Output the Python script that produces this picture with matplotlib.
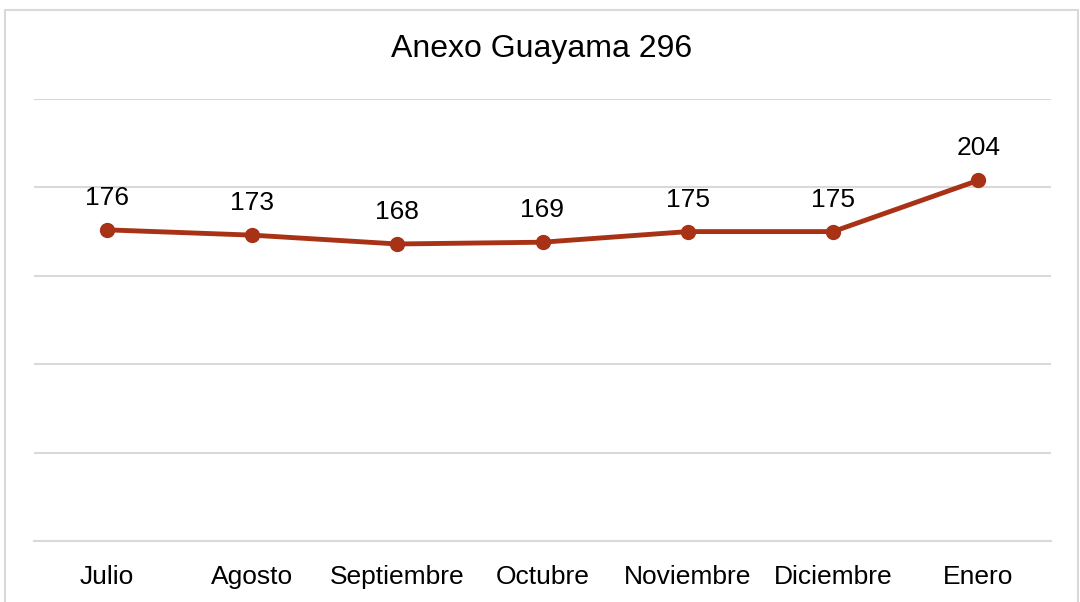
import matplotlib.pyplot as plt
from matplotlib.patches import Rectangle

plt.rcParams['font.family'] = ['Liberation Sans', 'DejaVu Sans']

months = ['Julio', 'Agosto', 'Septiembre', 'Octubre', 'Noviembre', 'Diciembre', 'Enero']
values = [176, 173, 168, 169, 175, 175, 204]
line_color = '#A83216'

fig = plt.figure(figsize=(10.8, 6.02), dpi=100)
ax = fig.add_axes([34 / 1080, 61 / 602, (1051 - 34) / 1080, (541 - 99) / 602])

# outer chart border, like a spreadsheet chart frame
fig.patches.append(Rectangle((4.5 / 1080, -0.01), (1078 - 4.5) / 1080, (602 - 9.5) / 602 + 0.01,
                             transform=fig.transFigure, fill=False,
                             edgecolor='#D9D9D9', linewidth=1.5))

x = range(len(months))
ax.plot(x, values, color=line_color, linewidth=3.5, marker='o', markersize=10)
for xi, v in zip(x, values):
    ax.annotate(str(v), (xi, v), xytext=(0, 23), textcoords='offset points',
                ha='center', va='center', fontsize=19)

ax.set_xlim(-0.5, len(months) - 0.5)
ax.set_ylim(0, 250)
ax.set_yticks(range(0, 251, 50))
ax.yaxis.grid(True, color='#D9D9D9', linewidth=1.5)
ax.set_axisbelow(True)
ax.set_yticklabels([])
ax.tick_params(axis='y', length=0)
ax.tick_params(axis='x', length=0, labelsize=19, pad=17)
ax.set_xticks(list(x))
ax.set_xticklabels(months)
for s in ['top', 'right', 'left']:
    ax.spines[s].set_visible(False)
ax.spines['bottom'].set_color('#D9D9D9')
ax.spines['bottom'].set_linewidth(1.5)

fig.text(542 / 1080, 1 - 49 / 602, 'Anexo Guayama 296', ha='center', va='center', fontsize=23)

fig.savefig('out.png', dpi=100)
